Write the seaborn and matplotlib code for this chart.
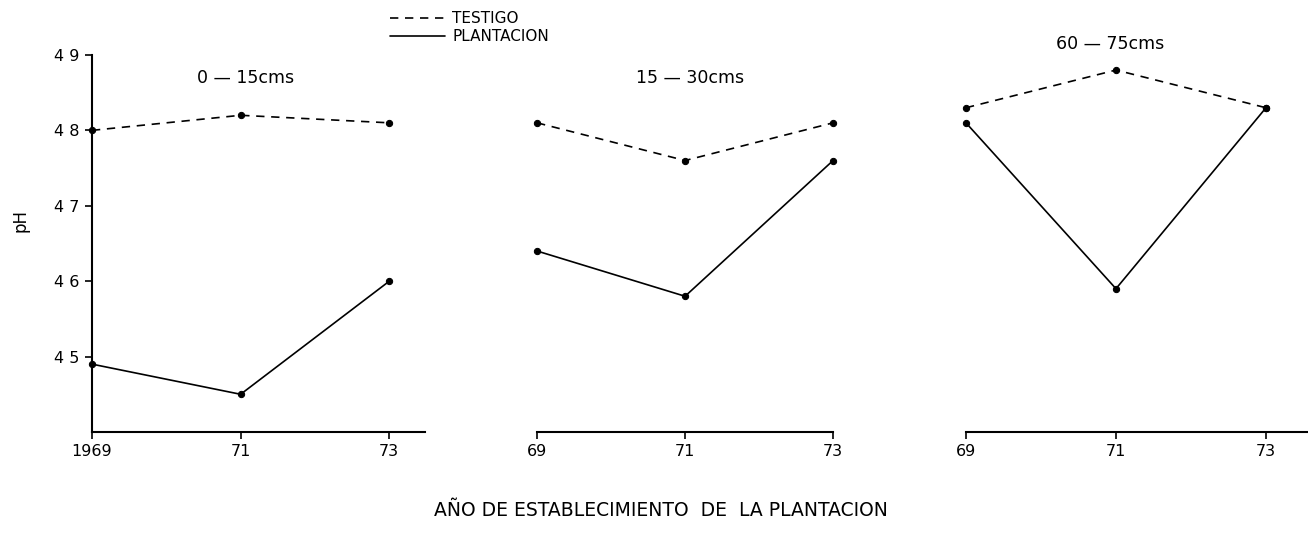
import matplotlib
matplotlib.use('Agg')
from matplotlib import pyplot as plt
import pandas as pd
import seaborn as sns

# values (pH by plantation year, three depth layers)
years = [1969, 1971, 1973]
depths = ['0 — 15cms', '15 — 30cms', '60 — 75cms']
testigo = {
    '0 — 15cms': [4.80, 4.82, 4.81],
    '15 — 30cms': [4.81, 4.76, 4.81],
    '60 — 75cms': [4.83, 4.88, 4.83],
}
plantacion = {
    '0 — 15cms': [4.49, 4.45, 4.60],
    '15 — 30cms': [4.64, 4.58, 4.76],
    '60 — 75cms': [4.81, 4.59, 4.83],
}
year_labels = [['1969', '71', '73'], ['69', '71', '73'], ['69', '71', '73']]
ph_ticks = [4.5, 4.6, 4.7, 4.8, 4.9]
ph_labels = ['4 5', '4 6', '4 7', '4 8', '4 9']

rows = []
for d in depths:
    for y, t, p in zip(years, testigo[d], plantacion[d]):
        rows.append({'depth': d, 'year': y, 'trat': 'TESTIGO', 'ph': t})
        rows.append({'depth': d, 'year': y, 'trat': 'PLANTACION', 'ph': p})
df = pd.DataFrame(rows)

sns.set_style('ticks')
plt.rcParams['font.family'] = ['DejaVu Sans']
plt.rcParams['text.color'] = 'black'
plt.rcParams['axes.edgecolor'] = 'black'
plt.rcParams['xtick.color'] = 'black'
plt.rcParams['ytick.color'] = 'black'

fig = plt.figure(figsize=(13.08, 5.48), dpi=100)

# panel boxes in figure fraction and right x-limit
boxes = [(0.0703, 0.2117, 0.2546, 0.688),
         (0.4106, 0.2117, 0.2263, 0.688),
         (0.7385, 0.2117, 0.2615, 0.688)]
xmax = [1973.48, 1973.0, 1973.56]
title_pos = [(0.462, 0.94), (0.517, 0.94), (0.421, 1.03)]

for i, d in enumerate(depths):
    ax = fig.add_axes(boxes[i])
    sub = df[df['depth'] == d]
    sns.lineplot(data=sub, x='year', y='ph', style='trat',
                 style_order=['TESTIGO', 'PLANTACION'],
                 dashes={'TESTIGO': (5, 4), 'PLANTACION': ''},
                 markers={'TESTIGO': 'o', 'PLANTACION': 'o'},
                 color='black', linewidth=1.2, markersize=4.5,
                 markeredgecolor='black', clip_on=False,
                 legend=False, ax=ax)
    ax.set_xlim(1969, xmax[i])
    ax.set_ylim(4.4, 4.9)
    ax.set_xticks(years)
    ax.set_xticklabels(year_labels[i], fontsize=11.5)
    ax.set_xlabel('')
    ax.set_ylabel('')
    for s in ['top', 'right']:
        ax.spines[s].set_visible(False)
    ax.spines['bottom'].set_linewidth(1.5)
    ax.tick_params(axis='x', direction='out', length=5, width=1.2, pad=4)
    if i == 0:
        ax.set_yticks(ph_ticks)
        ax.set_yticklabels(ph_labels, fontsize=11.5)
        ax.spines['left'].set_linewidth(1.5)
        ax.tick_params(axis='y', direction='out', length=5, width=1.2, pad=4)
    else:
        ax.spines['left'].set_visible(False)
        ax.set_yticks([])
    ax.text(title_pos[i][0], title_pos[i][1], d, transform=ax.transAxes,
            ha='center', va='center', fontsize=12.5, clip_on=False)
    if i == 0:
        handles = ax.lines[:2]

fig.legend(handles, ['TESTIGO', 'PLANTACION'], loc='upper left',
           bbox_to_anchor=(0.288, 1.005), frameon=False, fontsize=11,
           handlelength=3.6, handletextpad=0.45, labelspacing=0.2,
           markerscale=0)

fig.text(0.016, 1 - 220 / 548, 'pH', rotation=90, ha='center', va='center',
         fontsize=12)
fig.text(0.505, 1 - 511 / 548, 'AÑO DE ESTABLECIMIENTO  DE  LA PLANTACION',
         ha='center', va='center', fontsize=13.5)

fig.savefig('out.png', dpi=100)
